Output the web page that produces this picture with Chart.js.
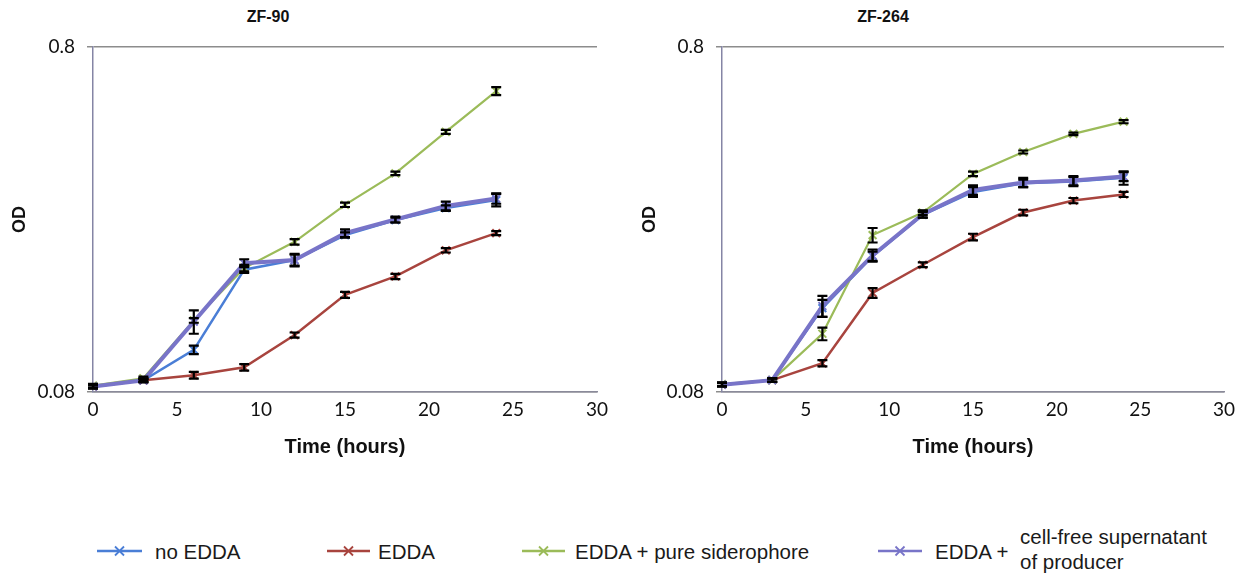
<!DOCTYPE html>
<html>
<head>
<meta charset="utf-8">
<script src="https://cdn.jsdelivr.net/npm/chart.js@4.4.1/dist/chart.umd.min.js"></script>
<style>
  html, body { margin: 0; padding: 0; background: #ffffff; }
  body { width: 1246px; height: 575px; position: relative; overflow: hidden; font-family: "Liberation Sans", Arial, sans-serif; }
  canvas { position: absolute; top: 0; }
  .title { position: absolute; top: 8px; font: bold 16px "Liberation Sans", Arial, sans-serif; color: #111; transform: translateX(-50%); white-space: nowrap; }
  .leg { position: absolute; font-size: 20.5px; color: #1a1a1a; white-space: nowrap; line-height: 25px; }
  .legsym { position: absolute; }
</style>
</head>
<body>
<div class="title" style="left:268px">ZF-90</div>
<div class="title" style="left:883px">ZF-264</div>
<canvas id="left" width="625" height="470" style="left:0px;width:625px;height:470px"></canvas>
<canvas id="right" width="616" height="470" style="left:630px;width:616px;height:470px"></canvas>
<div id="legend"></div>
<script>
// ---- data ----
const times = [0, 3, 6, 9, 12, 15, 18, 21, 24];
const seriesNames = ['no EDDA', 'EDDA', 'EDDA + pure siderophore', 'EDDA + cell-free supernatant of producer'];
const xTickMin = 0, xTickMax = 30, xTickStep = 5;
const yTickLabels = ['0.08', '0.8'];
const yTickValues = [0.08, 0.8];

// ZF-90 (left)
const noEDDA_L = [0.083, 0.0865, 0.106, 0.181, 0.193, 0.228, 0.252, 0.273, 0.288];
const EDDA_L   = [0.083, 0.0865, 0.0895, 0.0943, 0.117, 0.153, 0.173, 0.206, 0.231];
const pure_L   = [0.0835, 0.0877, 0.129, 0.183, 0.218, 0.279, 0.344, 0.454, 0.596];
const super_L  = [0.083, 0.0865, 0.128, 0.189, 0.193, 0.231, 0.253, 0.277, 0.291];
const noEDDA_L_err = [0.001, 0.001, 0.003, 0.004, 0.007, 0.004, 0.004, 0.005, 0.012];
const EDDA_L_err   = [0.001, 0.001, 0.002, 0.002, 0.002, 0.003, 0.003, 0.003, 0.003];
const pure_L_err   = [0.001, 0.001, 0.002, 0.004, 0.004, 0.004, 0.004, 0.006, 0.016];
const super_L_err  = [0.001, 0.001, 0.010, 0.005, 0.008, 0.006, 0.005, 0.008, 0.010];

// ZF-264 (right)
const noEDDA_R = [0.084, 0.0866, 0.140, 0.198, 0.261, 0.304, 0.322, 0.326, 0.334];
const EDDA_R   = [0.084, 0.0866, 0.0969, 0.155, 0.187, 0.225, 0.265, 0.287, 0.299];
const pure_R   = [0.0843, 0.0866, 0.118, 0.228, 0.265, 0.343, 0.397, 0.448, 0.486];
const super_R  = [0.084, 0.0866, 0.142, 0.199, 0.262, 0.308, 0.324, 0.328, 0.337];
const noEDDA_R_err = [0.001, 0.001, 0.008, 0.006, 0.005, 0.010, 0.008, 0.010, 0.015];
const EDDA_R_err   = [0.001, 0.001, 0.002, 0.005, 0.003, 0.005, 0.005, 0.005, 0.005];
const pure_R_err   = [0.001, 0.001, 0.005, 0.011, 0.004, 0.005, 0.004, 0.004, 0.005];
const super_R_err  = [0.001, 0.001, 0.010, 0.008, 0.006, 0.010, 0.010, 0.010, 0.010];

// ---- styles ----
const colors = ['#4a7ed6', '#a8443e', '#9bbb59', '#7874c8'];
const widths = [2.5, 2.5, 2.2, 4];
const orders = [3, 2, 1, 0];

const errorBars = {
  id: 'errorBars',
  afterDatasetsDraw(chart) {
    const ctx = chart.ctx;
    const ys = chart.scales.y;
    ctx.save();
    ctx.strokeStyle = '#000';
    ctx.lineWidth = 2.2;
    chart.data.datasets.forEach((ds, i) => {
      const meta = chart.getDatasetMeta(i);
      meta.data.forEach((pt, j) => {
        const v = ds.data[j].y, e = ds.errors[j];
        const y0 = ys.getPixelForValue(v - e), y1 = ys.getPixelForValue(v + e);
        const x = pt.x;
        ctx.beginPath();
        ctx.moveTo(x, y0); ctx.lineTo(x, y1);
        ctx.moveTo(x - 5, y0); ctx.lineTo(x + 5, y0);
        ctx.moveTo(x - 5, y1); ctx.lineTo(x + 5, y1);
        ctx.stroke();
      });
    });
    ctx.restore();
  }
};

function makeChart(id, series, errs, yWidth, padRight) {
  const datasets = series.map((vals, k) => ({
    label: seriesNames[k],
    data: times.map((t, n) => ({ x: t, y: vals[n] })),
    errors: errs[k],
    borderColor: colors[k],
    backgroundColor: colors[k],
    borderWidth: widths[k],
    pointStyle: 'crossRot',
    pointRadius: 5.5,
    pointBorderWidth: 2,
    pointBorderColor: colors[k],
    order: orders[k],
    tension: 0,
    fill: false
  }));
  return new Chart(document.getElementById(id), {
    type: 'line',
    data: { datasets },
    plugins: [errorBars],
    options: {
      responsive: false,
      animation: false,
      devicePixelRatio: 1,
      layout: { padding: { left: 0, right: padRight, top: 47, bottom: 0 } },
      plugins: { legend: { display: false }, tooltip: { enabled: false }, title: { display: false } },
      scales: {
        x: {
          type: 'linear',
          min: xTickMin, max: xTickMax,
          ticks: { stepSize: xTickStep, padding: 6, color: '#111', font: { family: 'Lato', size: 19 }, maxRotation: 0 },
          grid: { display: false, drawTicks: false },
          border: { display: true, color: '#8a8a9a', width: 1.5 },
          title: { display: true, text: 'Time (hours)', color: '#111', font: { family: 'Liberation Sans', weight: 'bold', size: 20 }, padding: { top: 0, bottom: 11 } },
          afterFit(scale) { scale.height = 78; }
        },
        y: {
          type: 'logarithmic',
          min: yTickValues[0], max: yTickValues[1],
          afterBuildTicks(scale) { scale.ticks = yTickValues.map(v => ({ value: v })); },
          ticks: {
            padding: 12, color: '#111', font: { family: 'Lato', size: 19 },
            callback: (v) => yTickLabels[yTickValues.indexOf(v)]
          },
          grid: { display: true, color: '#8c8c8c', lineWidth: 1.5, tickLength: 6, drawTicks: true },
          border: { display: true, color: '#8585a5', width: 1.5 },
          title: { display: true, text: 'OD', color: '#111', font: { family: 'Liberation Sans', weight: 'bold', size: 18 }, padding: { top: 9, bottom: 0 } },
          afterFit(scale) { scale.width = yWidth; }
        }
      }
    }
  });
}

makeChart('left', [noEDDA_L, EDDA_L, pure_L, super_L], [noEDDA_L_err, EDDA_L_err, pure_L_err, super_L_err], 93, 28);
makeChart('right', [noEDDA_R, EDDA_R, pure_R, super_R], [noEDDA_R_err, EDDA_R_err, pure_R_err, super_R_err], 92, 22);

// ---- HTML legend ----
const legendItems = [
  { line: [97, 142], text: ['no EDDA'], textX: 155 },
  { line: [327, 370], text: ['EDDA'], textX: 378 },
  { line: [522, 565], text: ['EDDA + pure siderophore'], textX: 575 },
  { line: [878, 922], text: ['EDDA +'], textX: 935, extra: ['cell-free supernatant', 'of producer'], extraX: 1020 }
];
const legendY = 551;
const legend = document.getElementById('legend');
legendItems.forEach((it, k) => {
  const w = it.line[1] - it.line[0];
  const svg = document.createElementNS('http://www.w3.org/2000/svg', 'svg');
  svg.setAttribute('width', w); svg.setAttribute('height', 14);
  svg.setAttribute('class', 'legsym');
  svg.style.left = it.line[0] + 'px'; svg.style.top = (legendY - 7) + 'px';
  const c = colors[k], m = w / 2;
  svg.innerHTML = `<line x1="0" y1="7" x2="${w}" y2="7" stroke="${c}" stroke-width="2.5"/>` +
    `<line x1="${m-4.5}" y1="2.5" x2="${m+4.5}" y2="11.5" stroke="${c}" stroke-width="1.8"/>` +
    `<line x1="${m-4.5}" y1="11.5" x2="${m+4.5}" y2="2.5" stroke="${c}" stroke-width="1.8"/>`;
  legend.appendChild(svg);
  const t = document.createElement('div');
  t.className = 'leg';
  t.style.left = it.textX + 'px';
  t.style.top = (legendY - 12.5) + 'px';
  t.textContent = it.text[0];
  legend.appendChild(t);
  if (it.extra) {
    const e = document.createElement('div');
    e.className = 'leg';
    e.style.left = it.extraX + 'px';
    e.style.top = (legendY - 27) + 'px';
    e.innerHTML = it.extra.join('<br>');
    legend.appendChild(e);
  }
});
</script>
</body>
</html>
